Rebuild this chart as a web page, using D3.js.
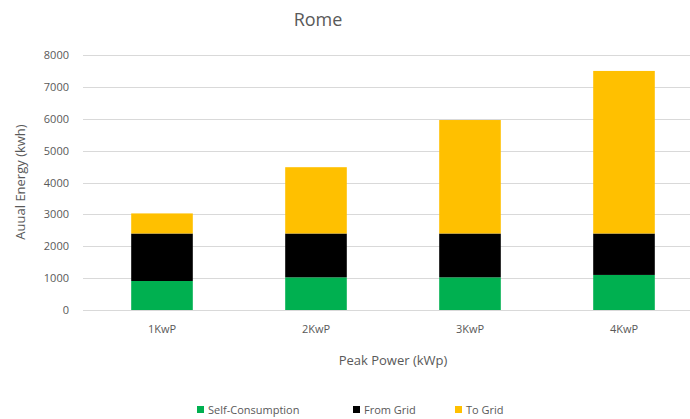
<!DOCTYPE html>
<html><head><meta charset="utf-8">
<script src="https://cdn.jsdelivr.net/npm/d3@7"></script>
<style>body{margin:0;background:#fff}svg{display:block;font-family:"Open Sans",sans-serif}</style>
</head><body><svg id="c" width="690" height="419"></svg>
<script>
const categories = ["1KwP","2KwP","3KwP","4KwP"];
const selfConsumption = [910, 1025, 1025, 1100];
const fromGrid = [1490, 1375, 1375, 1300];
const toGrid = [630, 2080, 3560, 5100];
const seriesNames = ["Self-Consumption","From Grid","To Grid"];
const seriesColors = ["#00b050","#000000","#ffc000"];
const yTicks = [0,1000,2000,3000,4000,5000,6000,7000,8000];

(function(){
const svg = d3.select("#c");
const pLeft = 85, pRight = 701, pTop = 55, pBottom = 310;
const x = d3.scaleBand().domain(categories).range([pLeft, pRight]).paddingInner(0.6).paddingOuter(0.3);
const y = d3.scaleLinear().domain([0, 8000]).range([pBottom, pTop]);

const rows = categories.map((c,i)=>({cat:c, s0:selfConsumption[i], s1:fromGrid[i], s2:toGrid[i]}));
const stack = d3.stack().keys(["s0","s1","s2"])(rows);

svg.append("g").selectAll("line").data(yTicks).join("line")
  .attr("x1", pLeft - 2).attr("x2", 690)
  .attr("y1", d=>Math.round(y(d))+0.5).attr("y2", d=>Math.round(y(d))+0.5)
  .attr("stroke", "#d9d9d9").attr("stroke-width", 1);

const yAxis = d3.axisLeft(y).tickValues(yTicks).tickSize(0).tickPadding(0).tickFormat(d3.format("d"));
const ya = svg.append("g").attr("transform", `translate(69,0)`).call(yAxis);
ya.select(".domain").remove();
ya.selectAll("text").attr("fill","#595959").style("font-size","11px").style("font-family","'Open Sans',sans-serif");

svg.append("g").selectAll("g").data(stack).join("g")
  .attr("fill", (d,i)=>seriesColors[i])
  .selectAll("rect").data(d=>d).join("rect")
  .attr("x", d=>x(d.data.cat)).attr("width", x.bandwidth())
  .attr("y", d=>y(d[1])).attr("height", d=>y(d[0])-y(d[1]));

const xAxis = d3.axisBottom(x).tickSize(0).tickPadding(0);
const xa = svg.append("g").attr("transform", `translate(0,${pBottom+15})`).call(xAxis);
xa.select(".domain").remove();
xa.selectAll("text").attr("fill","#595959").style("font-size","11px").style("font-family","'Open Sans',sans-serif");

svg.append("text").attr("x", 318).attr("y", 26).attr("text-anchor","middle")
  .attr("fill","#595959").style("font-size","18px").text("Rome");
svg.append("text").attr("transform","translate(25,182) rotate(-90)").attr("text-anchor","middle")
  .attr("fill","#595959").style("font-size","13px").text("Auual Energy (kwh)");
svg.append("text").attr("x", 393).attr("y", 365).attr("text-anchor","middle")
  .attr("fill","#595959").style("font-size","13px").text("Peak Power (kWp)");

const legX = [197, 353, 455];
const lg = svg.append("g").selectAll("g").data(seriesNames).join("g")
  .attr("transform", (d,i)=>`translate(${legX[i]},414)`);
lg.append("rect").attr("x",0).attr("y",-8).attr("width",7).attr("height",7).attr("fill",(d,i)=>seriesColors[i]);
lg.append("text").attr("x",11).attr("y",0).attr("fill","#595959").style("font-size","11px").text(d=>d);
})();
</script></body></html>
